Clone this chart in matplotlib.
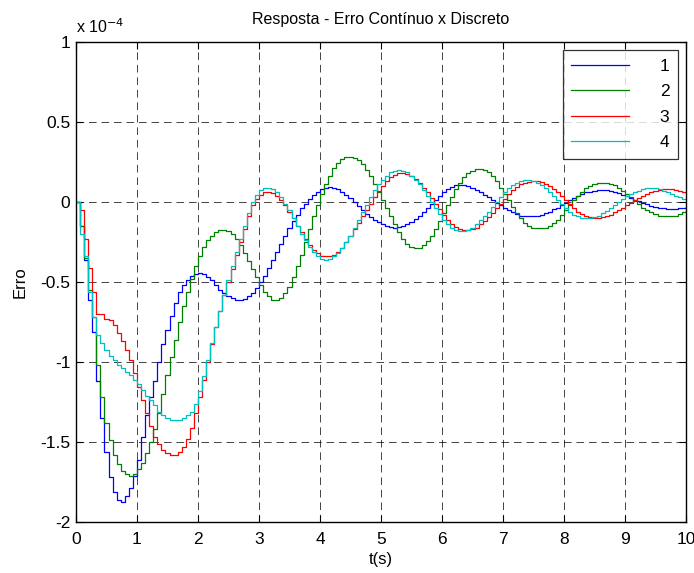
import numpy as np
import matplotlib
matplotlib.use("Agg")
import matplotlib.pyplot as plt
from matplotlib.ticker import FuncFormatter

plt.rcParams['font.family'] = ['Liberation Sans', 'DejaVu Sans']
plt.rcParams['lines.scale_dashes'] = False

# Sampling period (s) and scale of the error values
Ts = 1.0 / 15.0
scale = 1e-4

title = "Resposta - Erro Contínuo x Discreto"
xlabel = "t(s)"
ylabel = "Erro"
labels = ["1", "2", "3", "4"]
colors = ["#0000ff", "#008000", "#ff0000", "#00bfbf"]

# Error values in units of 1e-4, one value per sample (15 samples per second)
erro1 = [
    0, -0.15, -0.36, -0.61, -0.81, -1.12, -1.35, -1.56, -1.72, -1.81, -1.86, -1.875, -1.84, -1.79, -1.71,
    -1.61, -1.47, -1.33, -1.22, -1.12, -1.0, -0.89, -0.80, -0.71, -0.63, -0.56, -0.52, -0.49, -0.465, -0.45,
    -0.445, -0.45, -0.47, -0.49, -0.52, -0.55, -0.57, -0.59, -0.60, -0.61, -0.61, -0.605, -0.59, -0.57, -0.54,
    -0.50, -0.46, -0.41, -0.36, -0.31, -0.26, -0.21, -0.16, -0.12, -0.08, -0.04, -0.01, 0.02, 0.045, 0.065,
    0.08, 0.09, 0.095, 0.09, 0.08, 0.065, 0.045, 0.025, 0.0, -0.025, -0.05, -0.075, -0.095, -0.11, -0.125,
    -0.14, -0.15, -0.155, -0.16, -0.155, -0.15, -0.14, -0.125, -0.105, -0.085, -0.06, -0.035, -0.01, 0.015, 0.04,
    0.06, 0.08, 0.095, 0.105, 0.105, 0.105, 0.10, 0.09, 0.075, 0.06, 0.045, 0.03, 0.01, -0.005, -0.02,
    -0.035, -0.05, -0.065, -0.075, -0.085, -0.09, -0.09, -0.09, -0.085, -0.08, -0.07, -0.06, -0.045, -0.035, -0.02,
    -0.005, 0.01, 0.025, 0.04, 0.05, 0.06, 0.065, 0.07, 0.075, 0.075, 0.075, 0.07, 0.065, 0.055, 0.045,
    0.035, 0.025, 0.015, 0.005, -0.005, -0.015, -0.025, -0.03, -0.035, -0.04, -0.045, -0.045, -0.045, -0.04, -0.035,
    -0.03,
]
erro2 = [
    0, -0.15, -0.35, -0.55, -0.72, -1.02, -1.22, -1.38, -1.49, -1.58, -1.64, -1.68, -1.70, -1.71, -1.70,
    -1.67, -1.63, -1.57, -1.50, -1.42, -1.32, -1.20, -1.08, -0.97, -0.86, -0.75, -0.65, -0.56, -0.48, -0.40,
    -0.34, -0.28, -0.24, -0.21, -0.19, -0.175, -0.175, -0.18, -0.20, -0.23, -0.27, -0.32, -0.37, -0.42, -0.47,
    -0.52, -0.56, -0.59, -0.61, -0.61, -0.60, -0.57, -0.53, -0.47, -0.40, -0.33, -0.25, -0.17, -0.09, -0.02,
    0.05, 0.11, 0.16, 0.21, 0.245, 0.27, 0.283, 0.283, 0.275, 0.26, 0.235, 0.20, 0.16, 0.11, 0.06,
    0.01, -0.04, -0.09, -0.14, -0.19, -0.23, -0.26, -0.28, -0.29, -0.285, -0.27, -0.245, -0.21, -0.17, -0.12,
    -0.07, -0.02, 0.03, 0.08, 0.12, 0.155, 0.18, 0.195, 0.205, 0.205, 0.20, 0.185, 0.16, 0.13, 0.09,
    0.05, 0.01, -0.03, -0.07, -0.10, -0.13, -0.15, -0.16, -0.165, -0.165, -0.16, -0.15, -0.13, -0.11, -0.08,
    -0.05, -0.02, 0.01, 0.04, 0.065, 0.085, 0.10, 0.11, 0.12, 0.12, 0.12, 0.115, 0.105, 0.09, 0.07,
    0.05, 0.03, 0.005, -0.015, -0.035, -0.05, -0.065, -0.075, -0.085, -0.09, -0.09, -0.09, -0.085, -0.075, -0.065,
    -0.055,
]
erro3 = [
    0, -0.05, -0.23, -0.41, -0.56, -0.70, -0.70, -0.73, -0.74, -0.77, -0.82, -0.87, -0.925, -0.99, -1.07,
    -1.155, -1.24, -1.32, -1.40, -1.47, -1.51, -1.55, -1.57, -1.58, -1.58, -1.56, -1.53, -1.48, -1.41, -1.32,
    -1.22, -1.11, -1.0, -0.89, -0.78, -0.68, -0.58, -0.50, -0.42, -0.33, -0.25, -0.17, -0.09, -0.02, 0.02,
    0.045, 0.06, 0.06, 0.055, 0.04, 0.015, -0.02, -0.06, -0.10, -0.15, -0.19, -0.23, -0.27, -0.30, -0.32,
    -0.335, -0.34, -0.34, -0.33, -0.31, -0.285, -0.25, -0.21, -0.17, -0.13, -0.09, -0.05, -0.01, 0.03, 0.07,
    0.10, 0.13, 0.155, 0.17, 0.18, 0.18, 0.175, 0.165, 0.145, 0.12, 0.09, 0.06, 0.025, -0.01, -0.045,
    -0.08, -0.11, -0.135, -0.155, -0.17, -0.175, -0.175, -0.17, -0.16, -0.14, -0.12, -0.095, -0.07, -0.04, -0.01,
    0.02, 0.05, 0.075, 0.095, 0.11, 0.12, 0.127, 0.13, 0.13, 0.125, 0.115, 0.10, 0.08, 0.06, 0.035,
    0.01, -0.015, -0.04, -0.06, -0.075, -0.085, -0.095, -0.1, -0.1, -0.095, -0.09, -0.08, -0.065, -0.05, -0.035,
    -0.02, -0.005, 0.01, 0.025, 0.04, 0.05, 0.06, 0.07, 0.075, 0.08, 0.08, 0.08, 0.075, 0.07, 0.065,
    0.06,
]
erro4 = [
    0, -0.2, -0.34, -0.56, -0.72, -0.83, -0.88, -0.925, -0.96, -0.99, -1.02, -1.04, -1.06, -1.08, -1.11,
    -1.14, -1.175, -1.21, -1.24, -1.27, -1.31, -1.33, -1.35, -1.36, -1.36, -1.36, -1.35, -1.33, -1.31, -1.26,
    -1.18, -1.09, -0.99, -0.88, -0.78, -0.68, -0.58, -0.49, -0.40, -0.31, -0.23, -0.15, -0.07, 0.0, 0.045,
    0.075, 0.09, 0.09, 0.08, 0.06, 0.03, -0.01, -0.05, -0.10, -0.15, -0.20, -0.24, -0.28, -0.315, -0.34,
    -0.355, -0.36, -0.355, -0.34, -0.32, -0.29, -0.25, -0.21, -0.16, -0.11, -0.065, -0.02, 0.03, 0.075, 0.11,
    0.14, 0.165, 0.185, 0.195, 0.2, 0.195, 0.185, 0.165, 0.14, 0.11, 0.075, 0.04, 0.0, -0.04, -0.075,
    -0.11, -0.14, -0.16, -0.175, -0.18, -0.18, -0.175, -0.16, -0.14, -0.115, -0.09, -0.06, -0.03, 0.0, 0.03,
    0.06, 0.085, 0.105, 0.12, 0.13, 0.135, 0.135, 0.13, 0.12, 0.105, 0.085, 0.06, 0.035, 0.01, -0.015,
    -0.04, -0.06, -0.08, -0.09, -0.1, -0.1, -0.1, -0.095, -0.085, -0.07, -0.055, -0.04, -0.02, 0.0, 0.02,
    0.035, 0.05, 0.06, 0.07, 0.08, 0.085, 0.085, 0.085, 0.08, 0.07, 0.06, 0.05, 0.04, 0.03, 0.02,
    0.01,
]
series = [erro1, erro2, erro3, erro4]

xticks = [0, 1, 2, 3, 4, 5, 6, 7, 8, 9, 10]
yticks = [-2, -1.5, -1, -0.5, 0, 0.5, 1]

fig = plt.figure(figsize=(6.94, 5.73), dpi=100)
ax = fig.add_axes([0.1095, 0.089, 0.879, 0.8377])

for vals, lab, col in zip(series, labels, colors):
    v = np.asarray(vals) * scale
    t = np.arange(len(v)) * Ts
    ax.step(t, v, where='post', color=col, lw=0.9, label=lab)

ax.set_xlim(0, 10)
ax.set_ylim(-2 * scale, 1 * scale)
ax.set_xticks(xticks)
ax.set_yticks([y * scale for y in yticks])
ax.xaxis.set_major_formatter(FuncFormatter(lambda x, p: f"{x:g}"))
ax.yaxis.set_major_formatter(FuncFormatter(lambda y, p: f"{y / scale:g}"))
ax.tick_params(direction='in', top=True, right=True, length=5, width=0.8,
               labelsize=12.5)
ax.tick_params(axis='x', pad=7)
ax.tick_params(axis='y', pad=4)
for s in ax.spines.values():
    s.set_linewidth(1.0)

ax.grid(True, color='black', lw=0.6, linestyle=(0, (5.5, 3.5)), alpha=0.85)

ax.set_title(title, fontsize=11.5, pad=13)
ax.set_xlabel(xlabel, fontsize=12, labelpad=4)
ax.set_ylabel(ylabel, fontsize=12, labelpad=9)
ax.text(0.0, 1.012, r"x 10$^{-4}$", transform=ax.transAxes, fontsize=11.5,
        ha='left', va='bottom')

leg = ax.legend(loc='upper right', fontsize=12.5, handlelength=3.3,
                frameon=True, fancybox=False, edgecolor='black',
                borderpad=0.5, labelspacing=0.6, handletextpad=1.8,
                borderaxespad=0.45)
leg.get_frame().set_linewidth(0.9)

fig.savefig("out.png", dpi=100)
